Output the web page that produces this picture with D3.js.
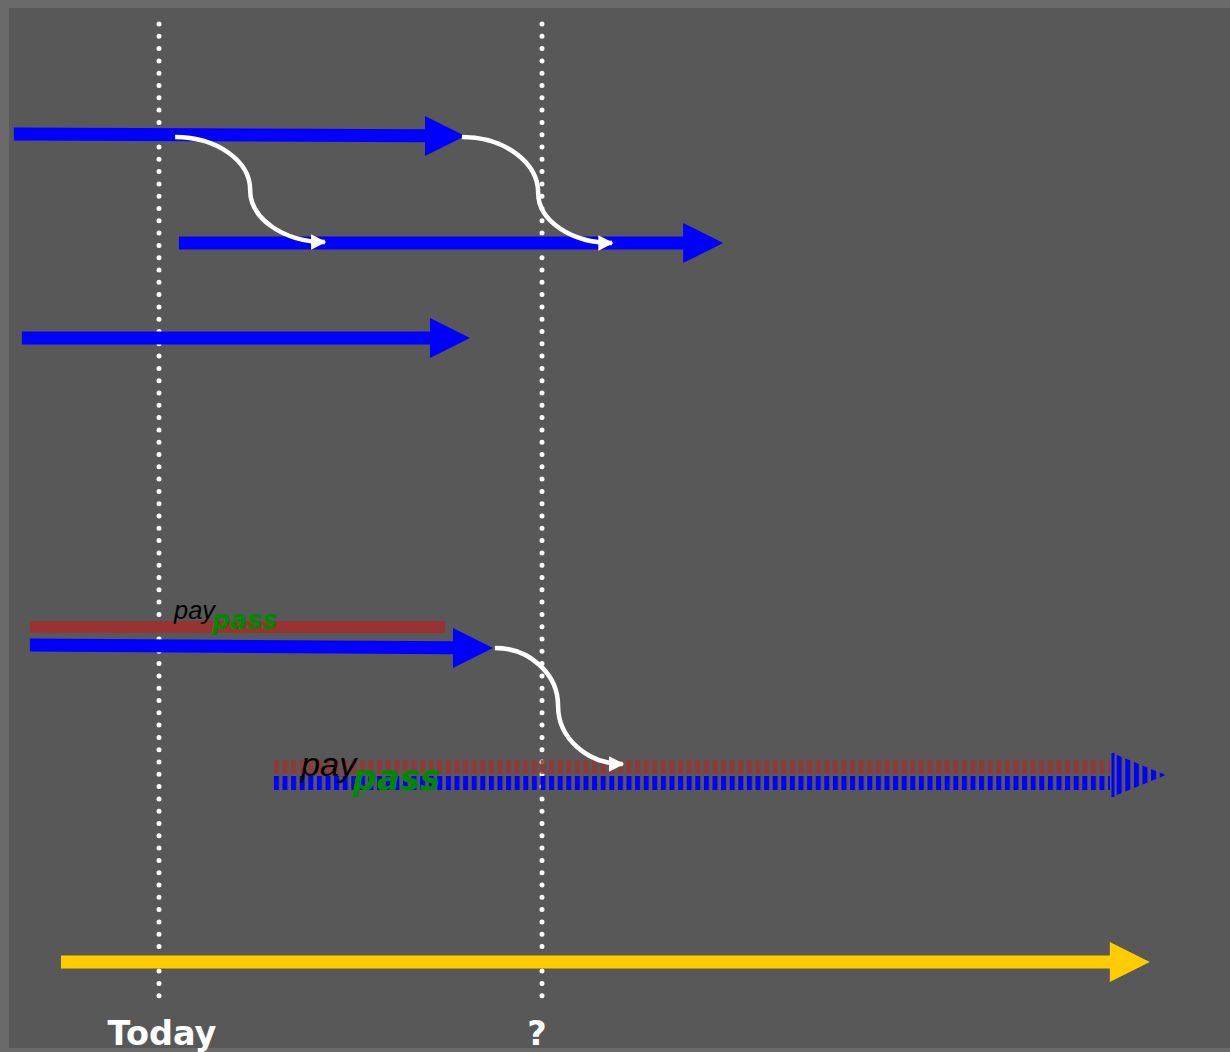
<!DOCTYPE html>
<html>
<head>
<meta charset="utf-8">
<script src="https://cdn.jsdelivr.net/npm/d3@7"></script>
<style>
  body { margin: 0; background: #6a6a6a; }
</style>
</head>
<body>
<script>
// time axis: 0 = Today, 1 = "?"
const markerNames = ["Today", "?"]
const markerTimes = [0, 1]

// solid arrows (start, end in time units, lane y at start / end)
const arrowNames = ["top", "second", "third", "paypassBlue", "yellow"]
const arrowStart = [-0.379, 0.052, -0.358, -0.337, -0.256]
const arrowEnd = [0.799, 1.473, 0.812, 0.872, 2.587]
const arrowLaneA = [134, 243, 338, 645, 962]
const arrowLaneB = [136, 243, 338, 648, 962]
const arrowColor = ["#0000ff", "#0000ff", "#0000ff", "#0000ff", "#ffcc00"]

// red paypass bar
const barStart = [-0.337]
const barEnd = [0.747]
const barLane = [627]

// striped (future) paypass arrow
const stripedStart = 0.300
const stripedEnd = 2.483
const stripedTip = 2.629
const stripedLanes = [767, 783]

// transfer curves: from, turn, to  (time, lane)
const curveFrom = [[0.042, 137], [0.791, 137], [0.877, 648]]
const curveTurn = [[0.238, 190], [0.990, 193], [1.042, 706]]
const curveTo = [[0.433, 242], [1.183, 243], [1.211, 764]]

const W = 1230, H = 1052
const x = d3.scaleLinear().domain([0, 1]).range([159, 542])
const y = d3.scaleLinear().domain([0, H]).range([0, H])

const svg = d3.select("body").append("svg").attr("width", W).attr("height", H)
svg.append("rect").attr("width", W).attr("height", H).attr("fill", "#6a6a6a")
svg.append("rect").attr("x", 9).attr("y", 8).attr("width", W - 9).attr("height", 1040).attr("fill", "#585858")

const defs = svg.append("defs")
const stripe = (id, color) => {
    const p = defs.append("pattern").attr("id", id).attr("patternUnits", "userSpaceOnUse")
        .attr("width", 8.6).attr("height", 40).attr("x", x(stripedStart))
    p.append("rect").attr("width", 5).attr("height", 40).attr("fill", color)
}
stripe("blueStripe", "#0000ff")
stripe("redStripe", "#993333")

defs.append("marker").attr("id", "whiteHead").attr("viewBox", "0 0 10 10")
    .attr("refX", 9).attr("refY", 5).attr("markerWidth", 3.6).attr("markerHeight", 3.4)
    .attr("markerUnits", "strokeWidth").attr("orient", "auto")
    .append("path").attr("d", "M0,0L10,5L0,10Z").attr("fill", "#fff")

// dotted guide lines
markerTimes.forEach((t, i) => {
    svg.append("line").attr("x1", x(t)).attr("x2", x(t)).attr("y1", 24).attr("y2", 996)
        .attr("stroke", "#fff").attr("stroke-width", 5).attr("stroke-linecap", "round")
        .attr("stroke-dasharray", "0 12.3")
    svg.append("text").attr("x", x(t) + (i == 0 ? 3 : -5)).attr("y", 1045)
        .attr("text-anchor", "middle").attr("fill", "#fff")
        .attr("font-family", "DejaVu Sans").attr("font-weight", "bold").attr("font-size", 33.5)
        .text(markerNames[i])
})

const head = 40, half = 20, shaft = 6.5

// red bar
barStart.forEach((s, i) => {
    svg.append("rect").attr("x", x(s)).attr("y", y(barLane[i]) - 6)
        .attr("width", x(barEnd[i]) - x(s)).attr("height", 12).attr("fill", "#993333")
})

// solid arrows
arrowNames.forEach((n, i) => {
    const x0 = x(arrowStart[i]), x1 = x(arrowEnd[i]), hx = x1 - head
    const ya = y(arrowLaneA[i]), yb = y(arrowLaneB[i])
    const yh = ya + (yb - ya) * (hx - x0) / (x1 - x0)
    const d = "M" + x0 + "," + (ya - shaft) + "L" + hx + "," + (yh - shaft) + "L" + hx + "," + (yb - half) +
        "L" + x1 + "," + yb + "L" + hx + "," + (yb + half) + "L" + hx + "," + (yh + shaft) +
        "L" + x0 + "," + (ya + shaft) + "Z"
    svg.append("path").attr("class", n).attr("d", d).attr("fill", arrowColor[i])
})

// striped arrow
const sx0 = x(stripedStart), sx1 = x(stripedEnd), stip = x(stripedTip)
svg.append("rect").attr("x", sx0).attr("y", y(stripedLanes[0]) - 7).attr("width", sx1 - sx0)
    .attr("height", 14).attr("fill", "url(#redStripe)").attr("opacity", 0.85)
svg.append("rect").attr("x", sx0).attr("y", y(stripedLanes[1]) - 7).attr("width", sx1 - sx0)
    .attr("height", 14).attr("fill", "url(#blueStripe)")
const hc = (y(stripedLanes[0]) + y(stripedLanes[1])) / 2
svg.append("path").attr("d", "M" + (sx1 + 2) + "," + (hc - 22) + "L" + stip + "," + hc + "L" + (sx1 + 2) + "," + (hc + 22) + "Z")
    .attr("fill", "url(#blueStripe)")
svg.append("line").attr("x1", sx1 + 3).attr("x2", sx1 + 3).attr("y1", hc - 22).attr("y2", hc + 22)
    .attr("stroke", "#0000ff").attr("stroke-width", 3)

// transfer curves (two quarter ellipses)
const k = 0.552
curveFrom.forEach((f, i) => {
    const a = [x(f[0]), y(f[1])], b = [x(curveTurn[i][0]), y(curveTurn[i][1])], c = [x(curveTo[i][0]), y(curveTo[i][1])]
    const d = "M" + a + "C" + [a[0] + (b[0] - a[0]) * k, a[1]] + " " + [b[0], b[1] - (b[1] - a[1]) * k] + " " + b +
        "C" + [b[0], b[1] + (c[1] - b[1]) * k] + " " + [c[0] - (c[0] - b[0]) * k, c[1]] + " " + c
    svg.append("path").attr("d", d).attr("fill", "none").attr("stroke", "#fff").attr("stroke-width", 4.5)
        .attr("marker-end", "url(#whiteHead)")
})

// paypass logos
const logo = (px, py, s) => {
    const g = svg.append("g").attr("transform", "translate(" + px + "," + py + ") scale(" + s + ")")
        .attr("font-style", "italic")
    g.append("text").attr("x", 0).attr("y", 0).attr("font-family", "Liberation Sans").attr("font-size", 25)
        .attr("fill", "#000").attr("textLength", 41).attr("lengthAdjust", "spacingAndGlyphs").text("pay")
    g.append("text").attr("x", 38).attr("y", 10).attr("font-family", "DejaVu Sans").attr("font-size", 26)
        .attr("font-weight", "bold").attr("fill", "#008800").attr("textLength", 65)
        .attr("lengthAdjust", "spacingAndGlyphs").text("pass")
    g.append("text").attr("x", 104).attr("y", -4).attr("font-family", "DejaVu Sans").attr("font-size", 4)
        .attr("fill", "#008800").text("™")
}
logo(174, 619, 1)
logo(301, 776, 1.35)
</script>
</body>
</html>
